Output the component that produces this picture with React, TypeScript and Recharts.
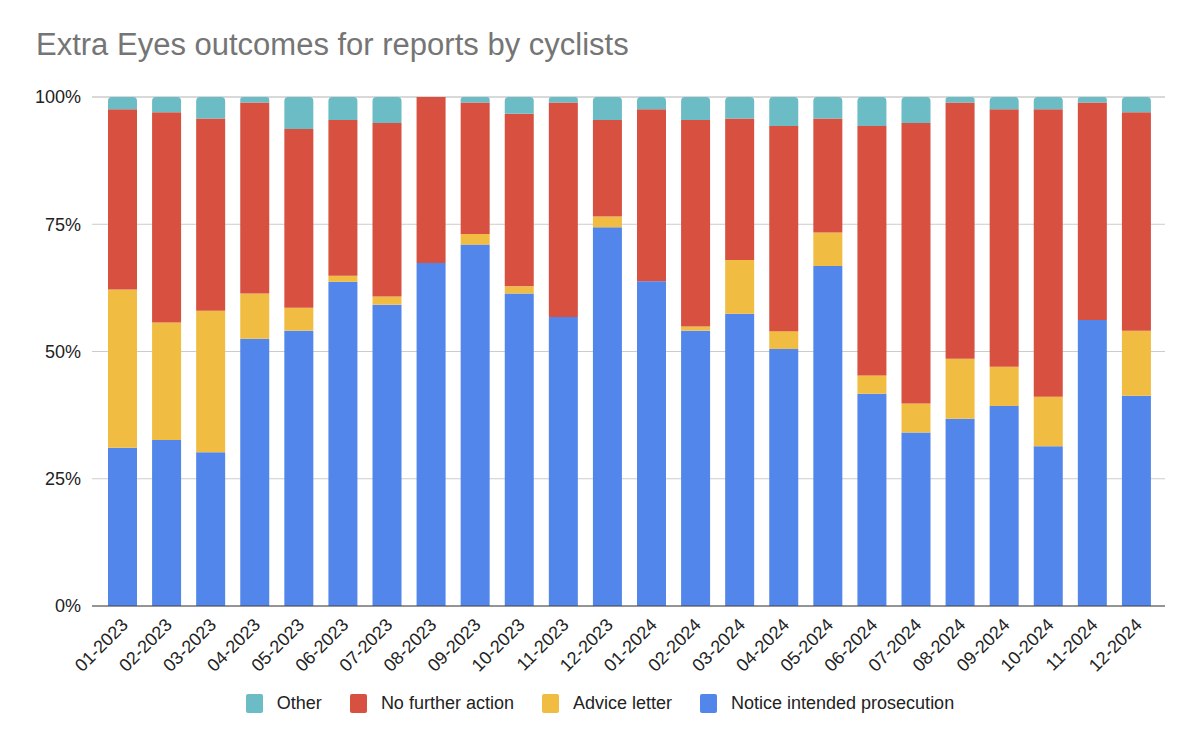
import React from 'react';
import { BarChart, Bar, XAxis, YAxis, CartesianGrid } from 'recharts';

const months = [
  '01-2023', '02-2023', '03-2023', '04-2023', '05-2023', '06-2023',
  '07-2023', '08-2023', '09-2023', '10-2023', '11-2023', '12-2023',
  '01-2024', '02-2024', '03-2024', '04-2024', '05-2024', '06-2024',
  '07-2024', '08-2024', '09-2024', '10-2024', '11-2024', '12-2024',
];

// shares in percent
const notice = [31.1, 32.6, 30.2, 52.5, 54.1, 63.7, 59.2, 67.4, 71.0, 61.4, 56.8, 74.4, 63.8, 54.1, 57.4, 50.5, 66.8, 41.7, 34.1, 36.8, 39.3, 31.4, 56.2, 41.3];
const advice = [31.1, 23.1, 27.8, 8.9, 4.5, 1.2, 1.6, 0, 2.1, 1.4, 0, 2.1, 0, 0.8, 10.6, 3.5, 6.6, 3.6, 5.7, 11.8, 7.7, 9.7, 0, 12.8];
const noAction = [35.4, 41.3, 37.8, 37.5, 35.1, 30.6, 34.1, 32.6, 25.8, 33.9, 42.1, 19.0, 33.8, 40.6, 27.8, 40.3, 22.4, 49.0, 55.1, 50.3, 50.6, 56.5, 42.7, 42.9];
const other = [2.4, 3.0, 4.2, 1.1, 6.3, 4.5, 5.1, 0, 1.1, 3.3, 1.1, 4.5, 2.4, 4.5, 4.2, 5.7, 4.2, 5.7, 5.1, 1.1, 2.4, 2.4, 1.1, 3.0];

const yTicks = [0, 25, 50, 75, 100];

const series = [
  { key: 'notice', name: 'Notice intended prosecution', color: '#5286EB' },
  { key: 'advice', name: 'Advice letter', color: '#F0BC41' },
  { key: 'noAction', name: 'No further action', color: '#D75040' },
  { key: 'other', name: 'Other', color: '#6BBCC5' },
];

const data = months.map((m, i) => ({
  month: m,
  notice: notice[i],
  advice: advice[i],
  noAction: noAction[i],
  other: other[i],
}));

const FONT = 'Arial, "Liberation Sans", sans-serif';

const MonthTick = (props: any) => {
  const { x, y, payload } = props;
  return (
    <text
      x={0}
      y={0}
      transform={`translate(${x + 7},${y + 12}) rotate(-45)`}
      textAnchor="end"
      fontSize={18}
      fontFamily={FONT}
      fill="#222"
    >
      {payload.value}
    </text>
  );
};

export default function App() {
  const legendItems = [...series].reverse();
  return (
    <div style={{ position: 'absolute', left: 0, top: 0, width: 1200, height: 750, background: '#fff', fontFamily: FONT }}>
      <div style={{ position: 'absolute', left: 36, top: 27, fontSize: 31, color: '#757575' }}>
        Extra Eyes outcomes for reports by cyclists
      </div>
      <BarChart
        width={1200}
        height={750}
        data={data}
        margin={{ top: 97, right: 35, bottom: 64, left: 32 }}
      >
        <CartesianGrid vertical={false} stroke="#cccccc" />
        <XAxis
          dataKey="month"
          interval={0}
          height={80}
          padding={{ left: 8, right: 7 }}
          tick={<MonthTick />}
          tickLine={false}
          axisLine={{ stroke: '#444', strokeWidth: 1 }}
        />
        <YAxis
          width={60}
          domain={[0, 100]}
          ticks={yTicks}
          tickFormatter={(v) => `${v}%`}
          axisLine={false}
          tickLine={false}
          tick={{ fontSize: 18, fill: '#222', fontFamily: FONT }}
          tickMargin={5}
        />
        {series.map((s) => (
          <Bar
            key={s.key}
            dataKey={s.key}
            name={s.name}
            stackId="a"
            fill={s.color}
            barSize={29}
            radius={s.key === 'other' ? [4, 4, 0, 0] : 0}
            isAnimationActive={false}
          />
        ))}
      </BarChart>
      <div style={{ position: 'absolute', top: 693, left: 0, width: 1200, display: 'flex', justifyContent: 'center', gap: 28, fontSize: 18, color: '#222' }}>
        {legendItems.map((s) => (
          <div key={s.key} style={{ display: 'flex', alignItems: 'center', gap: 14 }}>
            <span style={{ width: 17, height: 19, background: s.color, borderRadius: 2, display: 'inline-block' }} />
            <span>{s.name}</span>
          </div>
        ))}
      </div>
    </div>
  );
}
